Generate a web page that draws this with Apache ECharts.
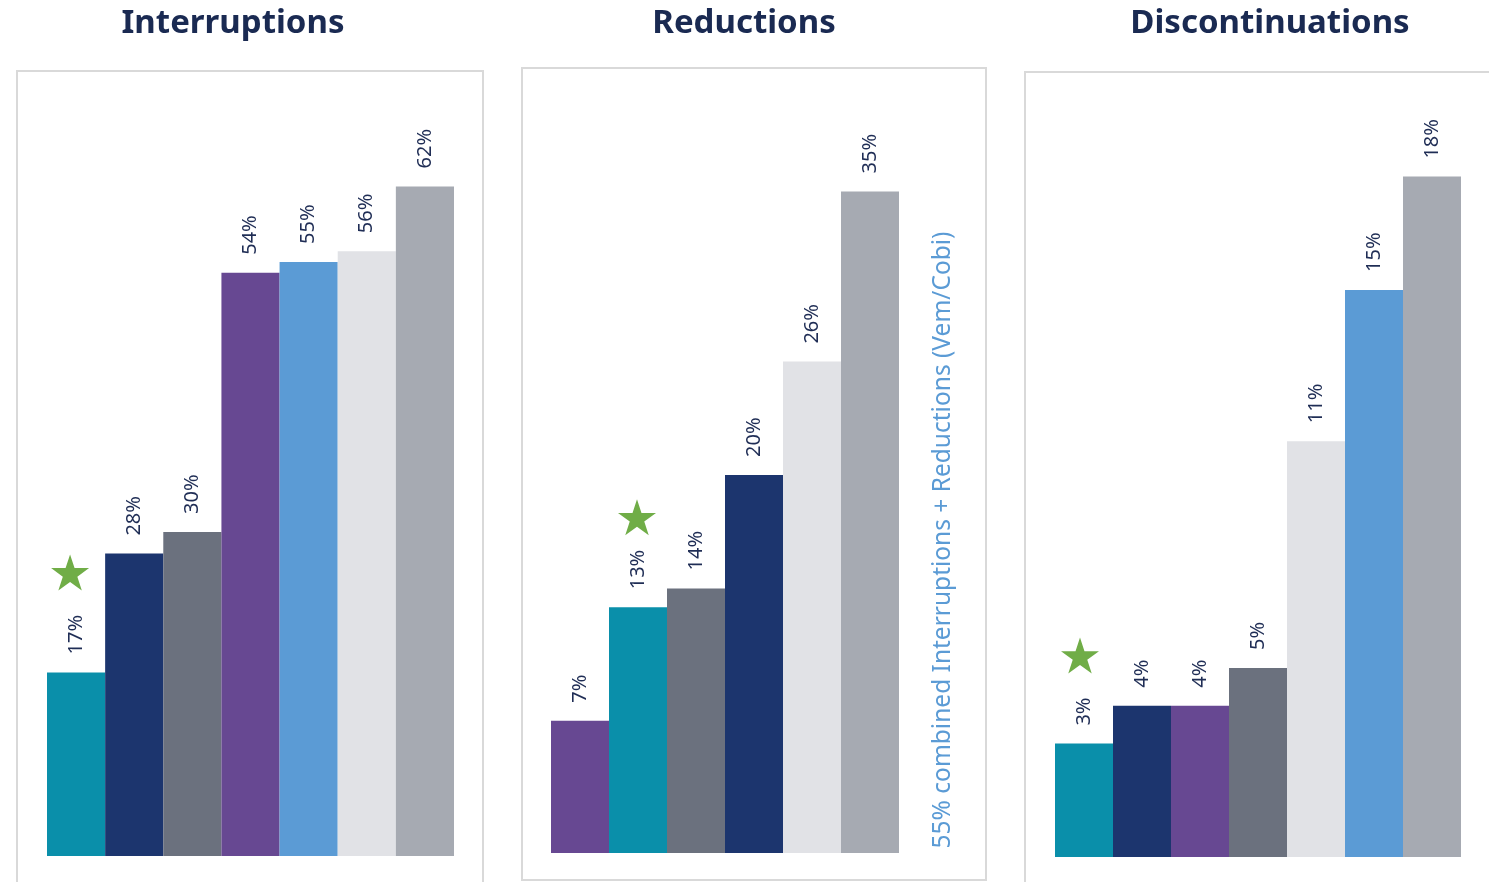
<!DOCTYPE html>
<html><head><meta charset="utf-8">
<script src="https://cdn.jsdelivr.net/npm/echarts@6/dist/echarts.min.js"></script>
<style>html,body{margin:0;padding:0;background:#fff}#c{width:1489px;height:882px}</style>
</head><body><div id="c"></div>
<script>
// ---- data ----
const panelTitles = ["Interruptions", "Reductions", "Discontinuations"];
const categories1 = ["Study A", "Study B", "Study C", "Study D", "Study E", "Study F", "Study G"];
const values1 = [17, 28, 30, 54, 55, 56, 62];
const categories2 = ["Study D", "Study A", "Study C", "Study B", "Study F", "Study G"];
const values2 = [7, 13, 14, 20, 26, 35];
const categories3 = ["Study A", "Study B", "Study D", "Study C", "Study F", "Study E", "Study G"];
const values3 = [3, 4, 4, 5, 11, 15, 18];
const starredCategory = "Study A";
const note = "55% combined Interruptions + Reductions (Vem/Cobi)";

// ---- styles ----
const palette = {
  "Study A": "#0A8FAA",
  "Study B": "#1C356E",
  "Study C": "#6B717E",
  "Study D": "#674892",
  "Study E": "#5B9BD5",
  "Study F": "#E1E2E6",
  "Study G": "#A6AAB2"
};
const FONT = "Noto Sans";
const starPath = "path://M50,0 L61.2,34.5 L97.6,34.5 L68.2,55.9 L79.4,90.5 L50,69.1 L20.6,90.5 L31.8,55.9 L2.4,34.5 L38.8,34.5 Z";

const panels = [
  { cats: categories1, vals: values1, grid: { left: 47, top: 100, width: 407, height: 756 }, max: 70, starOffset: [-6, -100], box: [17, 71, 466, 840], titleX: 233 },
  { cats: categories2, vals: values2, grid: { left: 551, top: 97, width: 348, height: 756 }, max: 40, starOffset: [-1, -90], box: [522, 68, 464, 812], titleX: 744 },
  { cats: categories3, vals: values3, grid: { left: 1055, top: 101, width: 406, height: 756 }, max: 20, starOffset: [-4, -88], box: [1025, 72, 480, 840], titleX: 1270 }
];

const chart = echarts.init(document.getElementById('c'), null, { renderer: 'canvas' });

const graphics = [];
panels.forEach((p, i) => {
  graphics.push({
    type: 'rect', z: 0, silent: true,
    shape: { x: p.box[0], y: p.box[1], width: p.box[2], height: p.box[3] },
    style: { fill: 'none', stroke: '#D9D9D9', lineWidth: 2 }
  });
  graphics.push({
    type: 'text', z: 10, silent: true,
    style: { x: p.titleX, y: 24, text: panelTitles[i], textAlign: 'center', textVerticalAlign: 'middle',
      font: 'bold 33px "' + FONT + '"', fill: '#1A2A52' }
  });
});
graphics.push({
  type: 'text', z: 10, silent: true,
  x: 943, y: 540, rotation: Math.PI / 2,
  style: { x: 0, y: 0, text: note, textAlign: 'center', textVerticalAlign: 'middle',
    font: '24.5px "' + FONT + '"', fill: '#5B9BD5' }
});

const option = {
  animation: false,
  backgroundColor: '#ffffff',
  grid: panels.map(p => Object.assign({ containLabel: false }, p.grid)),
  xAxis: panels.map((p, i) => ({
    type: 'category', gridIndex: i, data: p.cats,
    axisLine: { show: false }, axisTick: { show: false }, axisLabel: { show: false }, splitLine: { show: false }
  })),
  yAxis: panels.map((p, i) => ({
    type: 'value', gridIndex: i, min: 0, max: p.max,
    axisLine: { show: false }, axisTick: { show: false }, axisLabel: { show: false }, splitLine: { show: false }
  })),
  series: panels.map((p, i) => ({
    type: 'bar', xAxisIndex: i, yAxisIndex: i,
    data: p.vals,
    barCategoryGap: '0%',
    itemStyle: { color: params => palette[p.cats[params.dataIndex]] },
    label: {
      show: true, position: 'top', rotate: 90, align: 'left', verticalAlign: 'middle',
      distance: 18, formatter: '{c}%', color: '#1F2D55', fontSize: 20, fontFamily: FONT
    },
    markPoint: {
      silent: true,
      label: { show: false },
      data: [{
        coord: [p.cats.indexOf(starredCategory), p.vals[p.cats.indexOf(starredCategory)]],
        symbol: starPath, symbolSize: [38, 36], symbolOffset: p.starOffset,
        itemStyle: { color: '#70AD47' }
      }]
    }
  })),
  graphic: graphics
};
chart.setOption(option);
</script>
</body></html>
